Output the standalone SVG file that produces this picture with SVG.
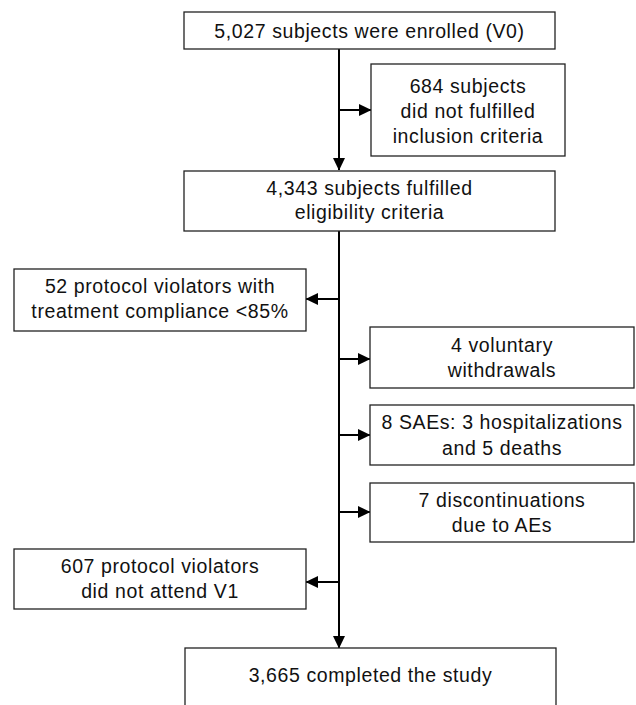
<svg xmlns="http://www.w3.org/2000/svg" width="636" height="705" viewBox="0 0 636 705">
<defs>
<style>
.box{fill:#fff;stroke:#222;stroke-width:1.3}
.t{font-family:"Liberation Sans",Arial,sans-serif;font-size:19.5px;letter-spacing:0.6px;fill:#111;text-anchor:middle}
.c{stroke:#000;stroke-width:2;fill:none}
</style>
<marker id="ah" markerWidth="13" markerHeight="13" viewBox="0 0 13 13" refX="12" refY="6.5" orient="auto" markerUnits="userSpaceOnUse">
<path d="M0,0.5 L12.5,6.5 L0,12.5 Z" fill="#000"/>
</marker>
</defs>
<rect width="636" height="705" fill="#fff"/>
<g id="connectors">
<line class="c" x1="339" y1="49" x2="339" y2="170" marker-end="url(#ah)"/>
<line class="c" x1="339" y1="231" x2="339" y2="648" marker-end="url(#ah)"/>
<line class="c" x1="339" y1="110" x2="371" y2="110" marker-end="url(#ah)"/>
<line class="c" x1="339" y1="299" x2="306" y2="299" marker-end="url(#ah)"/>
<line class="c" x1="339" y1="359" x2="370" y2="359" marker-end="url(#ah)"/>
<line class="c" x1="339" y1="435" x2="370" y2="435" marker-end="url(#ah)"/>
<line class="c" x1="339" y1="512" x2="370" y2="512" marker-end="url(#ah)"/>
<line class="c" x1="339" y1="582" x2="306" y2="582" marker-end="url(#ah)"/>
</g>
<g id="n1">
<rect class="box" x="184" y="12" width="371" height="37"/>
<text class="t" x="369.5" y="37.5">5,027 subjects were enrolled (V0)</text>
</g>
<g id="n2">
<rect class="box" x="371" y="64" width="194" height="92"/>
<text class="t" x="468" y="93">684 subjects</text>
<text class="t" x="468" y="118">did not fulfilled</text>
<text class="t" x="468" y="143">inclusion criteria</text>
</g>
<g id="n3">
<rect class="box" x="184" y="171" width="371" height="60"/>
<text class="t" x="369.5" y="194.5">4,343 subjects fulfilled</text>
<text class="t" x="369.5" y="219">eligibility criteria</text>
</g>
<g id="n4">
<rect class="box" x="14" y="269" width="292" height="62"/>
<text class="t" x="160" y="292.5">52 protocol violators with</text>
<text class="t" x="160" y="317.5">treatment compliance &lt;85%</text>
</g>
<g id="n5">
<rect class="box" x="370" y="327" width="264" height="61"/>
<text class="t" x="502" y="352">4 voluntary</text>
<text class="t" x="502" y="377">withdrawals</text>
</g>
<g id="n6">
<rect class="box" x="370" y="405" width="264" height="60"/>
<text class="t" x="502" y="429">8 SAEs: 3 hospitalizations</text>
<text class="t" x="502" y="454.5">and 5 deaths</text>
</g>
<g id="n7">
<rect class="box" x="370" y="483" width="264" height="59"/>
<text class="t" x="502" y="506.5">7 discontinuations</text>
<text class="t" x="502" y="531.5">due to AEs</text>
</g>
<g id="n8">
<rect class="box" x="14" y="549" width="292" height="60"/>
<text class="t" x="160" y="572.5">607 protocol violators</text>
<text class="t" x="160" y="597.5">did not attend V1</text>
</g>
<g id="n9">
<rect class="box" x="185" y="648" width="371" height="80"/>
<text class="t" x="370.5" y="682">3,665 completed the study</text>
</g>
</svg>
